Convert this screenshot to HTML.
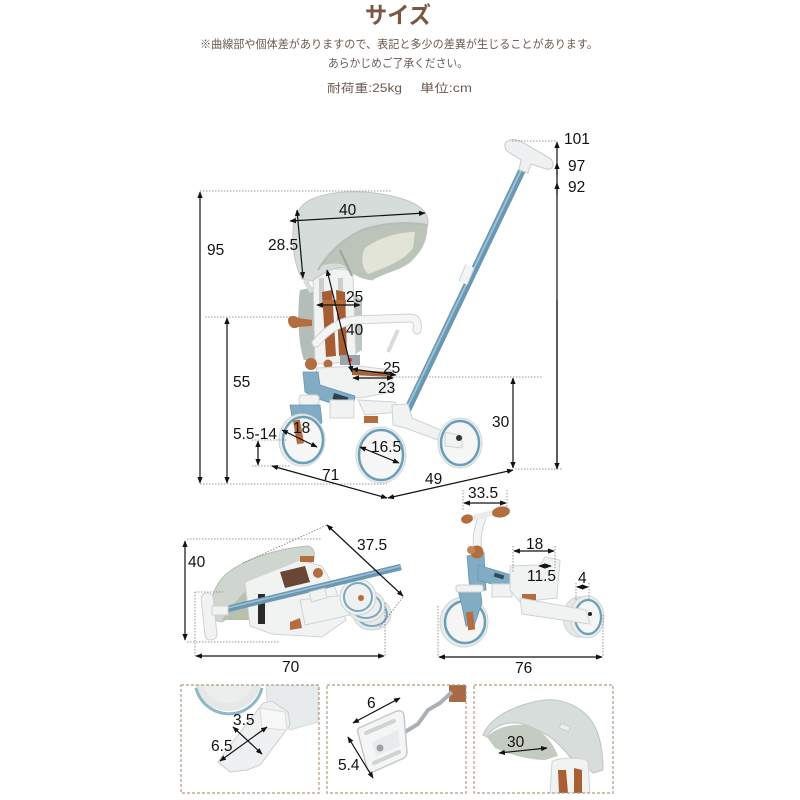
<!DOCTYPE html>
<html><head><meta charset="utf-8">
<style>
html,body{margin:0;padding:0;background:#fff;}
svg{display:block;}
.t{font-family:"Liberation Sans",sans-serif;font-size:15.5px;fill:#111;}
.jp{font-family:"Liberation Sans","Noto Sans CJK JP",sans-serif;}
.dim{stroke:#111;stroke-width:1.2;fill:none;}
.dot{stroke:#7a7a7a;stroke-width:0.8;stroke-dasharray:1.5,1.5;fill:none;}
.pan{stroke:#b39a82;stroke-width:1.2;stroke-dasharray:3,2;fill:none;}
.wh{fill:#f1f2f2;stroke:#cfd3d5;stroke-width:1;}
.bl{fill:#82acc4;stroke:#6a96af;stroke-width:0.8;}
.br{fill:#b36d3e;}
</style></head><body>
<svg width="800" height="800" viewBox="0 0 800 800" xmlns="http://www.w3.org/2000/svg">
<defs>
<marker id="a" viewBox="0 0 10 10" refX="9" refY="5" markerWidth="5.5" markerHeight="5.5" orient="auto-start-reverse"><path d="M0,1 L10,5 L0,9 z" fill="#111"/></marker>
<clipPath id="c1"><rect x="181" y="685" width="138" height="108"/></clipPath>
<clipPath id="c2"><rect x="327" y="685" width="139" height="108"/></clipPath>
<clipPath id="c3"><rect x="474" y="685" width="139" height="108"/></clipPath>
</defs>

<!-- Header -->
<text class="jp" x="398" y="23" text-anchor="middle" font-size="23" font-weight="bold" fill="#7a5744" textLength="66" lengthAdjust="spacingAndGlyphs">サイズ</text>
<text class="jp" x="200" y="48" font-size="11.5" fill="#6a5b52" textLength="398" lengthAdjust="spacingAndGlyphs">※曲線部や個体差がありますので、表記と多少の差異が生じることがあります。</text>
<text class="jp" x="328" y="67" font-size="11.5" fill="#6a5b52" textLength="140" lengthAdjust="spacingAndGlyphs">あらかじめご了承ください。</text>
<text class="jp" x="327" y="92" font-size="11.5" fill="#6a5b52" textLength="75" lengthAdjust="spacingAndGlyphs">耐荷重:25kg</text>
<text class="jp" x="420" y="92" font-size="11.5" fill="#6a5b52" textLength="52" lengthAdjust="spacingAndGlyphs">単位:cm</text>

<!-- ===== Main tricycle ===== -->
<!-- pole -->
<line x1="527" y1="160" x2="405" y2="415" stroke="#6a97b1" stroke-width="7.5"/>
<line x1="526" y1="160" x2="404" y2="414" stroke="#9cc1d6" stroke-width="2"/>
<line x1="470" y1="266" x2="463" y2="283" stroke="#cfd3d5" stroke-width="10"/>
<line x1="470" y1="266" x2="463" y2="283" stroke="#f3f4f4" stroke-width="8"/>
<!-- T handle -->
<path d="M505,146 C504,140 514,138 520,141 L548,157 C556,161 554,171 546,169 L531,164 L528,173 L519,170 L521,160 L510,153 C506,151 505,149 505,146 z" fill="#eef0f1" stroke="#c6cbcd" stroke-width="1"/>

<!-- gray side fabric -->
<path d="M300,290 L320,286 L322,362 L304,360 C298,345 297,310 300,290 z" fill="#b4bdb7"/>
<path d="M350,292 L362,300 L362,350 L352,356 z" fill="#bfc7c2"/>
<!-- seat back -->
<path d="M313,276 C314,268 350,266 353,274 L356,362 L315,364 z" class="wh"/>
<rect x="319" y="278" width="5" height="30" fill="#c9cdd0"/>
<rect x="338" y="278" width="5" height="30" fill="#c9cdd0"/>
<path d="M322,292 L332,290 L336,356 L326,357 z" fill="#a65d33"/>
<path d="M336,290 L345,292 L347,355 L339,356 z" fill="#a65d33"/>
<path d="M323,300 L346,300 L346,306 L323,306 z" fill="#b86e3f"/>

<!-- canopy -->
<path d="M302,279 C296,268 292,250 293,232 C293,218 298,206 310,200 C325,193 345,191 365,192 C390,194 412,200 422,209 C428,214 429,222 427,228 C425,242 418,255 410,262 C400,270 385,272 372,280 C360,278 352,272 345,268 C335,266 325,272 312,281 z" fill="#d6dcd9" stroke="#bfc7c3" stroke-width="1"/>
<path d="M427,225 C410,222 385,222 362,230 C345,238 330,250 320,266 C335,262 345,262 350,272 C360,278 368,282 375,278 C390,272 408,266 418,254 C425,245 428,235 427,225 z" fill="#bcc3b8"/>
<path d="M415,232 C398,232 378,238 365,248 C360,258 362,268 368,274 C385,268 405,260 413,248 z" fill="#e2e4d8"/>
<path d="M427,225 C410,222 385,222 362,230 C345,238 330,250 318,270" fill="none" stroke="#b3bcb6" stroke-width="2"/>
<line x1="340" y1="250" x2="352" y2="276" stroke="#9aa39c" stroke-width="2"/>
<line x1="305" y1="280" x2="312" y2="292" stroke="#d9dcdc" stroke-width="5"/>

<!-- armrest -->
<path d="M316,343 C325,332 337,322 355,320 L410,318 C417,318 418,323 417,330" fill="none" stroke="#cfd3d5" stroke-width="9" stroke-linecap="round"/>
<path d="M316,343 C325,332 337,322 355,320 L410,318 C417,318 418,323 417,330" fill="none" stroke="#f4f5f5" stroke-width="7" stroke-linecap="round"/>
<line x1="398" y1="330" x2="388" y2="352" stroke="#d8dcdd" stroke-width="4"/>
<!-- left brown knob -->
<path d="M288,320 C288,315 296,315 298,318 L312,320 L312,326 L298,327 C294,330 288,327 288,320 z" class="br"/>
<circle cx="311" cy="364" r="6" class="br"/>
<circle cx="328" cy="364" r="4.5" class="br"/>
<!-- harness -->
<rect x="340" y="355" width="20" height="10" fill="#9ea4a8"/>
<circle cx="350" cy="360" r="2" fill="#d33"/>
<!-- seat base -->
<path d="M316,368 L358,366 L392,370 L392,392 L360,398 L320,394 z" class="wh"/>
<path d="M352,370 L392,372 L392,377 L352,375 z" fill="#a66338"/>
<!-- blue frame -->
<path d="M303,372 L318,372 L320,385 L355,396 L353,410 L315,398 L305,392 z" class="bl"/>
<rect x="333" y="395" width="15" height="6" fill="#2f3f4d" transform="rotate(18 340 398)"/>
<rect x="330" y="400" width="24" height="18" class="wh"/>
<rect x="299" y="395" width="20" height="10" rx="3" class="wh"/>
<path d="M290,405 L320,405 L322,422 L312,435 L294,428 z" class="bl"/>
<path d="M358,400 L395,402 L400,412 L365,415 z" class="wh"/>
<rect x="364" y="416" width="14" height="7" class="br"/>
<!-- rear frame -->
<path d="M392,405 L408,404 L412,418 L455,436 L452,445 L405,428 L393,425 z" class="wh"/>
<!-- wheels -->
<g>
<ellipse cx="302" cy="440" rx="23" ry="26" fill="#eceeee" stroke="#d3d7d8"/>
<ellipse cx="303" cy="440" rx="20" ry="23" fill="#f6f6f6" stroke="#6a9fb9" stroke-width="2.5"/>
<rect x="295" y="420" width="7" height="24" class="br" transform="rotate(-10 298 432)"/>
<ellipse cx="381" cy="455" rx="25" ry="28" fill="#eceeee" stroke="#d3d7d8"/>
<ellipse cx="381" cy="455" rx="22" ry="25" fill="#f6f6f6" stroke="#6a9fb9" stroke-width="2.5"/>
<ellipse cx="460" cy="443" rx="22" ry="25" fill="#eceeee" stroke="#d3d7d8"/>
<ellipse cx="460" cy="443" rx="19" ry="22" fill="#f6f6f6" stroke="#6a9fb9" stroke-width="2.5"/>
<path d="M445,432 L462,436 L462,448 L445,446 z" class="wh"/>
<circle cx="459" cy="438" r="3" fill="#333"/>
</g>

<!-- main dims -->
<line class="dot" x1="512" y1="141" x2="557" y2="141"/>
<line class="dim" x1="557" y1="469" x2="557" y2="142" marker-end="url(#a)"/>
<line class="dim" x1="557" y1="175" x2="557" y2="163" marker-end="url(#a)"/>
<line class="dim" x1="557" y1="195" x2="557" y2="183" marker-end="url(#a)"/>
<line class="dim" x1="557" y1="300" x2="557" y2="469" marker-end="url(#a)"/>
<line class="dot" x1="515" y1="469" x2="563" y2="469"/>
<line class="dot" x1="200" y1="191" x2="392" y2="191"/>
<line class="dim" x1="200" y1="192" x2="200" y2="483" marker-start="url(#a)" marker-end="url(#a)"/>
<line class="dot" x1="200" y1="484" x2="387" y2="484"/>
<line class="dot" x1="205" y1="317" x2="300" y2="317"/>
<line class="dim" x1="227" y1="318" x2="227" y2="483" marker-start="url(#a)" marker-end="url(#a)"/>
<line class="dot" x1="390" y1="377" x2="542" y2="377"/>
<line class="dim" x1="513" y1="378" x2="513" y2="468" marker-start="url(#a)" marker-end="url(#a)"/>
<line class="dot" x1="252" y1="440" x2="287" y2="440"/>
<line class="dot" x1="252" y1="466" x2="290" y2="466"/>
<line class="dim" x1="258" y1="441" x2="258" y2="465" marker-start="url(#a)" marker-end="url(#a)"/>
<line class="dim" x1="272" y1="466" x2="387" y2="498" marker-start="url(#a)" marker-end="url(#a)"/>
<line class="dim" x1="388" y1="498" x2="513" y2="470" marker-start="url(#a)" marker-end="url(#a)"/>
<line class="dim" x1="290" y1="221" x2="425" y2="213" marker-start="url(#a)" marker-end="url(#a)"/>
<line class="dim" x1="297" y1="210" x2="303" y2="278" marker-start="url(#a)" marker-end="url(#a)"/>
<line class="dim" x1="317" y1="305" x2="360" y2="305" marker-start="url(#a)" marker-end="url(#a)"/>
<line class="dim" x1="327" y1="270" x2="352" y2="372" marker-start="url(#a)" marker-end="url(#a)"/>
<line class="dim" x1="352" y1="369" x2="396" y2="375" marker-start="url(#a)" marker-end="url(#a)"/>
<line class="dim" x1="353" y1="378" x2="393" y2="378" marker-start="url(#a)" marker-end="url(#a)"/>
<line class="dim" x1="282" y1="430" x2="317" y2="447" marker-start="url(#a)" marker-end="url(#a)"/>
<line class="dim" x1="360" y1="447" x2="399" y2="463" marker-start="url(#a)" marker-end="url(#a)"/>
<line class="dot" x1="463" y1="490" x2="463" y2="510"/>
<line class="dot" x1="507" y1="490" x2="507" y2="510"/>

<text class="t" x="564" y="144">101</text>
<text class="t" x="568" y="171">97</text>
<text class="t" x="568" y="192">92</text>
<text class="t" x="207" y="255">95</text>
<text class="t" x="339" y="215">40</text>
<text class="t" x="268" y="250">28.5</text>
<text class="t" x="346" y="302">25</text>
<text class="t" x="346" y="335">40</text>
<text class="t" x="383" y="373">25</text>
<text class="t" x="378" y="393">23</text>
<text class="t" x="233" y="387">55</text>
<text class="t" x="492" y="427">30</text>
<text class="t" x="233" y="439">5.5-14</text>
<text class="t" x="293" y="433">18</text>
<text class="t" x="371" y="452">16.5</text>
<text class="t" x="322" y="480">71</text>
<text class="t" x="425" y="484">49</text>

<!-- ===== Folded trike ===== -->
<path d="M213,620 C208,600 215,585 225,575 C245,558 280,548 308,546 C315,548 316,556 312,562 C290,566 262,578 248,595 C240,605 232,615 222,622 z" fill="#cfd6cf" stroke="#b6beb6"/>
<path d="M222,620 C232,605 245,590 260,578 C275,570 295,563 312,562 L300,600 L250,620 z" fill="#b9c0ad"/>
<path d="M245,582 L300,560 L322,566 L336,590 L346,620 L322,637 L272,634 L250,626 z" class="wh"/>
<path d="M280,572 L305,566 L310,582 L285,588 z" fill="#6a4634"/>
<circle cx="318" cy="573" r="5" class="br"/>
<rect x="300" y="556" width="14" height="6" class="br"/>
<rect x="258" y="594" width="7" height="30" fill="#2a2a2a"/>
<path d="M290,622 L300,618 L302,628 L290,630 z" class="br"/>
<path d="M300,600 L345,595 L350,615 L305,625 z" class="wh"/>
<g>
<ellipse cx="372" cy="614" rx="19" ry="16" fill="#e8eaea" stroke="#d0d4d5"/>
<ellipse cx="372" cy="614" rx="15" ry="12" fill="none" stroke="#79a8bf" stroke-width="2"/>
<ellipse cx="366" cy="606" rx="19" ry="16" fill="#eceeee" stroke="#d0d4d5"/>
<ellipse cx="366" cy="606" rx="15" ry="12" fill="none" stroke="#79a8bf" stroke-width="2"/>
<ellipse cx="358" cy="597" rx="18" ry="18" fill="#f0f1f1" stroke="#d0d4d5"/>
<ellipse cx="358" cy="597" rx="14" ry="14" fill="none" stroke="#79a8bf" stroke-width="2"/>
<circle cx="361" cy="598" r="3" class="br"/>
</g>
<line x1="215" y1="612" x2="401" y2="567" stroke="#6a97b1" stroke-width="6.5"/>
<line x1="215" y1="611" x2="401" y2="566" stroke="#9cc1d6" stroke-width="1.5"/>
<rect x="310" y="590" width="16" height="10" class="wh" transform="rotate(-15 318 595)"/>
<rect x="203" y="593" width="12" height="47" rx="5" class="wh" transform="rotate(-6 209 616)"/>
<rect x="212" y="606" width="16" height="9" class="wh"/>

<line class="dot" x1="187" y1="539" x2="322" y2="539"/>
<line class="dot" x1="187" y1="642" x2="280" y2="642"/>
<line class="dim" x1="185" y1="541" x2="185" y2="640" marker-start="url(#a)" marker-end="url(#a)"/>
<line class="dot" x1="243" y1="563" x2="327" y2="525"/>
<line class="dot" x1="380" y1="627" x2="403" y2="597"/>
<line class="dim" x1="327" y1="525" x2="403" y2="596" marker-start="url(#a)" marker-end="url(#a)"/>
<line class="dot" x1="195" y1="592" x2="223" y2="592"/>
<line class="dot" x1="195" y1="592" x2="195" y2="656"/>
<line class="dot" x1="385" y1="603" x2="385" y2="656"/>
<line class="dim" x1="196" y1="656" x2="384" y2="656" marker-start="url(#a)" marker-end="url(#a)"/>
<text class="t" x="188" y="567">40</text>
<text class="t" x="357" y="550">37.5</text>
<text class="t" x="282" y="672">70</text>

<!-- ===== Balance bike ===== -->
<path d="M478,553 C476,540 478,528 482,518" fill="none" stroke="#cfd3d5" stroke-width="9" stroke-linecap="round"/>
<path d="M478,553 C476,540 478,528 482,518" fill="none" stroke="#f3f4f4" stroke-width="7" stroke-linecap="round"/>
<path d="M472,518 L497,512" stroke="#e9ecec" stroke-width="6" stroke-linecap="round"/>
<ellipse cx="467" cy="519" rx="6" ry="4.5" class="br" transform="rotate(-15 467 519)"/>
<ellipse cx="501" cy="512" rx="9" ry="5.5" class="br" transform="rotate(-10 501 512)"/>
<path d="M467,556 L484,553 L486,590 L470,592 z" class="bl"/>
<path d="M478,565 L528,580 L525,594 L478,580 z" class="bl"/>
<rect x="494" y="574" width="10" height="4" fill="#33495a" transform="rotate(17 499 576)"/>
<circle cx="477" cy="552" r="6.5" class="br"/>
<circle cx="471" cy="550" r="4" fill="#c78456"/>
<ellipse cx="464" cy="622" rx="24" ry="25" fill="#e9ebeb" stroke="#d0d4d5"/>
<ellipse cx="465" cy="622" rx="20" ry="21" fill="#f5f5f5" stroke="#6a9fb9" stroke-width="2.5"/>
<path d="M458,590 L480,588 L482,603 L474,626 L466,626 L462,606 z" class="bl"/>
<rect x="456" y="585" width="27" height="7" rx="2" class="wh"/>
<rect x="467" y="612" width="7" height="18" class="br" transform="rotate(-8 470 621)"/>
<rect x="492" y="584" width="20" height="13" class="wh"/>
<path d="M510,566 L540,565 L545,557 L560,560 L557,598 L520,602 L510,590 z" class="wh"/>
<rect x="522" y="594" width="14" height="6" class="br"/>
<ellipse cx="579" cy="617" rx="16" ry="20" fill="#e6e8e8" stroke="#d0d4d5"/>
<ellipse cx="587" cy="617" rx="17" ry="21" fill="#eceeee" stroke="#d0d4d5"/>
<ellipse cx="588" cy="617" rx="13" ry="17" fill="#f5f5f5" stroke="#6a9fb9" stroke-width="2.2"/>
<path d="M520,598 L586,610 L590,624 L522,614 z" class="wh"/>
<circle cx="590" cy="614" r="2" fill="#222"/>

<line class="dim" x1="464" y1="503" x2="506" y2="503" marker-start="url(#a)" marker-end="url(#a)"/>
<line class="dot" x1="513" y1="546" x2="513" y2="572"/>
<line class="dot" x1="555" y1="546" x2="555" y2="568"/>
<line class="dim" x1="514" y1="551" x2="554" y2="551" marker-start="url(#a)" marker-end="url(#a)"/>
<line class="dim" x1="539" y1="566" x2="551" y2="566" marker-start="url(#a)" marker-end="url(#a)"/>
<line class="dot" x1="576" y1="583" x2="576" y2="600"/>
<line class="dot" x1="589" y1="583" x2="589" y2="600"/>
<line class="dim" x1="577" y1="587" x2="588" y2="587" marker-start="url(#a)" marker-end="url(#a)"/>
<line class="dot" x1="438" y1="606" x2="438" y2="657"/>
<line class="dot" x1="603" y1="615" x2="603" y2="657"/>
<line class="dim" x1="439" y1="657" x2="602" y2="657" marker-start="url(#a)" marker-end="url(#a)"/>
<text class="t" x="468" y="498">33.5</text>
<text class="t" x="526" y="549">18</text>
<text class="t" x="527" y="581">11.5</text>
<text class="t" x="578" y="583">4</text>
<text class="t" x="515" y="673">76</text>

<!-- ===== Bottom panels ===== -->
<g clip-path="url(#c1)">
<circle cx="228" cy="677" r="34" fill="#e6e8e8"/>
<path d="M196,688 A34,34 0 0 0 262,688" fill="none" stroke="#8fb7c9" stroke-width="3"/>
<circle cx="228" cy="677" r="26" fill="#eceeee"/>
<path d="M266,685 L318,685 L318,722 L290,730 L268,712 z" fill="#e8ebeb" stroke="#d6dadb"/>
<path d="M218,762 L225,752 L263,703 L272,701 L288,712 L290,725 L260,765 L247,770 L230,772 z" fill="#eef0f1" stroke="#cbcfd1" stroke-linejoin="round"/>
<path d="M260,708 L285,712 L287,730 L262,728 z" fill="#f8f8f8" stroke="#d8dbdc"/>
</g>
<g clip-path="url(#c2)">
<rect x="449" y="685" width="18" height="17" fill="#a86a45"/>
<path d="M400,735 L418,724 L428,710 L440,703 L452,692" fill="none" stroke="#a9b1b6" stroke-width="4"/>
<path d="M361,727 L397,711 C402,710 404,713 404,716 L407,752 C407,756 405,758 402,759 L375,771 C371,773 368,771 367,768 L358,733 C357,730 358,728 361,727 z" fill="#f4f5f5" stroke="#c5c9cb" stroke-width="1.5"/>
<path d="M366,733 L394,721" stroke="#cfd3d5" stroke-width="4" stroke-linecap="round"/>
<path d="M374,763 L399,752" stroke="#cfd3d5" stroke-width="4" stroke-linecap="round"/>
<path d="M372,742 L398,730 L400,746 L376,756 z" fill="#e8eaeb"/>
<circle cx="380" cy="748" r="3.5" fill="#9aa0a4"/>
</g>
<g clip-path="url(#c3)">
<path d="M483,735 C487,725 497,716 510,710 C527,702 545,699 555,700 C570,702 585,710 593,723 C600,735 603,752 603,770 L593,773 C585,765 578,760 570,757 C560,745 552,737 543,733 C530,725 518,722 510,723 C500,724 490,730 487,737 z" fill="#d7dddb" stroke="#bdc5c2"/>
<path d="M487,737 C495,728 510,724 525,725 C540,728 552,740 558,756 L545,760 C530,760 510,755 495,748 z" fill="#c4cbc1"/>
<path d="M552,762 C552,758 586,756 588,762 L590,793 L550,793 z" class="wh"/>
<path d="M558,770 L566,770 L568,793 L559,793 z" fill="#a85f34"/>
<path d="M574,768 L582,770 L582,793 L574,793 z" fill="#a85f34"/>
<rect x="560" y="725" width="10" height="5" fill="#eceeee" stroke="#c9cfcd" transform="rotate(20 565 727)"/>
</g>
<rect class="pan" x="181" y="685" width="138" height="108"/>
<rect class="pan" x="327" y="685" width="139" height="108"/>
<rect class="pan" x="474" y="685" width="139" height="108"/>

<line class="dim" x1="233" y1="727" x2="262" y2="754" marker-start="url(#a)" marker-end="url(#a)"/>
<line class="dim" x1="220" y1="761" x2="267" y2="727" marker-start="url(#a)" marker-end="url(#a)"/>
<line class="dim" x1="353" y1="723" x2="400" y2="698" marker-start="url(#a)" marker-end="url(#a)"/>
<line class="dim" x1="348" y1="737" x2="373" y2="778" marker-start="url(#a)" marker-end="url(#a)"/>
<line class="dim" x1="499" y1="753" x2="547" y2="748" marker-start="url(#a)" marker-end="url(#a)"/>
<text class="t" x="233" y="725">3.5</text>
<text class="t" x="211" y="751">6.5</text>
<text class="t" x="367" y="708">6</text>
<text class="t" x="338" y="770">5.4</text>
<text class="t" x="507" y="747">30</text>
</svg>
</body></html>
